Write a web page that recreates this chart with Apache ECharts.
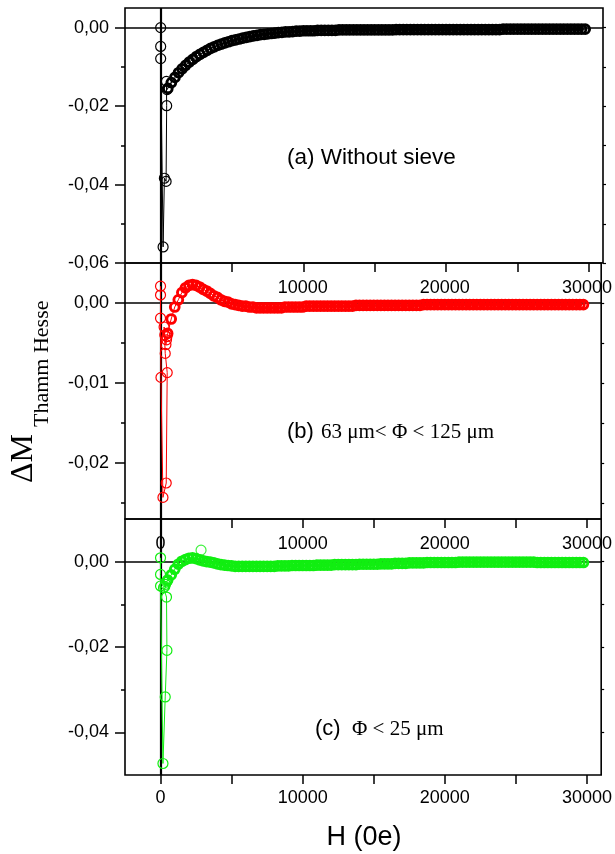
<!DOCTYPE html>
<html>
<head>
<meta charset="utf-8">
<script src="https://cdn.jsdelivr.net/npm/echarts@6/dist/echarts.min.js"></script>
<style>
  html, body { margin: 0; padding: 0; background: #fff; }
  #chart { width: 615px; height: 854px; }
</style>
</head>
<body>
<div id="chart"></div>
<script>
// Field grid (Oe) shared by the three high-field sweeps
const H_GRID = [
  500,750,1000,1250,1500,1750,2000,2250,2500,2750,
  3000,3250,3500,3750,4000,4250,4500,4750,5000,5250,
  5500,5750,6000,6250,6500,6750,7000,7250,7500,7750,
  8000,8250,8500,8750,9000,9250,9500,9750,10000,10250,
  10500,10750,11000,11250,11500,11750,12000,12250,12500,12750,
  13000,13250,13500,13750,14000,14250,14500,14750,15000,15250,
  15500,15750,16000,16250,16500,16750,17000,17250,17500,17750,
  18000,18250,18500,18750,19000,19250,19500,19750,20000,20250,
  20500,20750,21000,21250,21500,21750,22000,22250,22500,22750,
  23000,23250,23500,23750,24000,24250,24500,24750,25000,25250,
  25500,25750,26000,26250,26500,26750,27000,27250,27500,27750,
  28000,28250,28500,28750,29000,29250,29500,29750
];

// (a) Without sieve
const LOW_H_A = [0, 0, 0, 170, 260, 380, 420, 400, 450];
const LOW_M_A = [0.0000, -0.0048, -0.0079, -0.0559, -0.0384, -0.0392, -0.0199, -0.0137, -0.0158];
const M_A = [
  -0.0155,-0.0140,-0.0127,-0.0115,-0.0105,-0.0096,-0.0088,-0.0081,-0.0074,-0.0068,
  -0.0063,-0.0058,-0.0053,-0.0049,-0.0045,-0.0042,-0.0039,-0.0036,-0.0033,-0.0031,
  -0.0029,-0.0027,-0.0025,-0.0023,-0.0021,-0.0020,-0.0018,-0.0017,-0.0016,-0.0015,
  -0.0014,-0.0013,-0.0012,-0.0011,-0.0011,-0.0010,-0.0009,-0.0009,-0.0008,-0.0008,
  -0.0008,-0.0008,-0.0007,-0.0007,-0.0007,-0.0007,-0.0007,-0.0007,-0.0006,-0.0006,
  -0.0006,-0.0006,-0.0006,-0.0006,-0.0006,-0.0006,-0.0006,-0.0006,-0.0006,-0.0006,
  -0.0006,-0.0006,-0.0006,-0.0006,-0.0005,-0.0005,-0.0005,-0.0005,-0.0005,-0.0005,
  -0.0005,-0.0005,-0.0005,-0.0005,-0.0005,-0.0005,-0.0005,-0.0005,-0.0005,-0.0005,
  -0.0005,-0.0005,-0.0005,-0.0005,-0.0005,-0.0005,-0.0005,-0.0005,-0.0005,-0.0005,
  -0.0005,-0.0005,-0.0005,-0.0005,-0.0004,-0.0004,-0.0004,-0.0004,-0.0004,-0.0004,
  -0.0004,-0.0004,-0.0004,-0.0004,-0.0004,-0.0004,-0.0004,-0.0004,-0.0004,-0.0004,
  -0.0004,-0.0004,-0.0004,-0.0004,-0.0004,-0.0004,-0.0004,-0.0004
];

// (b) 63 μm < Φ < 125 μm
const LOW_H_B = [0, 0, 0, 30, 170, 400, 470, 330, 250, 300, 380, 420, 450];
const LOW_M_B = [0.0021, 0.0010, -0.0019, -0.0093, -0.0243, -0.0225, -0.0087, -0.0063, -0.0030, -0.0040, -0.0052, -0.0046, -0.0042];
const M_B = [
  -0.0038,-0.0020,-0.0005,0.0004,0.0013,0.0019,0.0022,0.0023,0.0022,0.0020,
  0.0017,0.0015,0.0012,0.0009,0.0007,0.0004,0.0002,0.0001,-0.0001,-0.0002,
  -0.0003,-0.0004,-0.0004,-0.0005,-0.0005,-0.0006,-0.0006,-0.0006,-0.0006,-0.0006,
  -0.0006,-0.0006,-0.0006,-0.0005,-0.0005,-0.0005,-0.0005,-0.0005,-0.0005,-0.0004,
  -0.0004,-0.0004,-0.0004,-0.0004,-0.0004,-0.0004,-0.0004,-0.0004,-0.0004,-0.0004,
  -0.0004,-0.0004,-0.0004,-0.0003,-0.0003,-0.0003,-0.0003,-0.0003,-0.0003,-0.0003,
  -0.0003,-0.0003,-0.0003,-0.0003,-0.0003,-0.0003,-0.0003,-0.0003,-0.0003,-0.0003,
  -0.0003,-0.0003,-0.0002,-0.0002,-0.0002,-0.0002,-0.0002,-0.0002,-0.0002,-0.0002,
  -0.0002,-0.0002,-0.0002,-0.0002,-0.0002,-0.0002,-0.0002,-0.0002,-0.0002,-0.0002,
  -0.0002,-0.0002,-0.0002,-0.0002,-0.0002,-0.0002,-0.0002,-0.0002,-0.0002,-0.0002,
  -0.0002,-0.0002,-0.0002,-0.0002,-0.0002,-0.0002,-0.0002,-0.0002,-0.0002,-0.0002,
  -0.0002,-0.0002,-0.0002,-0.0002,-0.0002,-0.0002,-0.0002,-0.0002
];

// (c) Φ < 25 μm
const LOW_H_C = [0, 0, 0, 170, 330, 450, 420, 210, 300, 350, 420, 470];
const LOW_M_C = [0.0009, -0.0030, -0.0057, -0.0473, -0.0317, -0.0208, -0.0083, -0.0061, -0.0058, -0.0053, -0.0048, -0.0045];
const M_C = [
  -0.0043,-0.0031,-0.0018,-0.0006,0.0001,0.0005,0.0008,0.0009,0.0007,0.0004,
  0.0002,0.0000,-0.0001,-0.0003,-0.0005,-0.0007,-0.0008,-0.0009,-0.0010,-0.0011,
  -0.0011,-0.0011,-0.0011,-0.0011,-0.0011,-0.0011,-0.0011,-0.0011,-0.0011,-0.0011,
  -0.0011,-0.0010,-0.0010,-0.0010,-0.0010,-0.0009,-0.0009,-0.0009,-0.0009,-0.0009,
  -0.0009,-0.0009,-0.0008,-0.0008,-0.0008,-0.0008,-0.0008,-0.0007,-0.0007,-0.0007,
  -0.0007,-0.0007,-0.0007,-0.0007,-0.0006,-0.0006,-0.0006,-0.0006,-0.0006,-0.0006,
  -0.0005,-0.0005,-0.0005,-0.0005,-0.0004,-0.0004,-0.0004,-0.0004,-0.0003,-0.0003,
  -0.0003,-0.0003,-0.0003,-0.0002,-0.0002,-0.0002,-0.0002,-0.0002,-0.0002,-0.0002,
  -0.0002,-0.0002,-0.0001,-0.0001,-0.0001,-0.0001,-0.0001,-0.0001,-0.0001,-0.0001,
  -0.0001,-0.0001,-0.0001,-0.0001,-0.0001,-0.0001,-0.0001,-0.0001,-0.0001,-0.0001,
  -0.0001,-0.0001,-0.0001,-0.0001,-0.0002,-0.0002,-0.0002,-0.0002,-0.0002,-0.0002,
  -0.0002,-0.0002,-0.0002,-0.0002,-0.0002,-0.0002,-0.0002,-0.0002
];
const OUT_H_C = [2850];
const OUT_M_C = [0.0027];

// Axis ranges and tick values
const X_MIN = -2500, X_MAX = 31000;
const X_TICKS = [0, 5000, 10000, 15000, 20000, 25000, 30000];
const X_LABELS = [0, 10000, 20000, 30000];
const X_TOP_LABELS = [[], [10000, 20000, 30000], [0, 10000, 20000, 30000]];

const Y_RANGE = [[-0.06, 0.005], [-0.027, 0.005], [-0.05, 0.01]];
const Y_MAJOR = [[-0.06, -0.04, -0.02, 0], [-0.02, -0.01, 0], [-0.04, -0.02, 0]];
const Y_MINOR = [[-0.05, -0.03, -0.01], [-0.025, -0.015, -0.005], [-0.03, -0.01]];

const COLORS = ['#000000', '#ff0000', '#11ee11'];

const SANS = "'Liberation Sans', Arial, sans-serif";
const SERIF = "'Liberation Serif', 'Times New Roman', serif";

// low-field points keep a thin outline; the dense sweep uses a heavier one
function lowItems(hs, ms) { return hs.map((h, i) => ({ value: [h, ms[i]], symbolSize: 10, itemStyle: { borderWidth: 1.2 } })); }
function pairs(hs, ms) { return hs.map((h, i) => [h, ms[i]]); }
const DATA = [
  lowItems(LOW_H_A, LOW_M_A).concat(pairs(H_GRID, M_A)),
  lowItems(LOW_H_B, LOW_M_B).concat(pairs(H_GRID, M_B)),
  lowItems(LOW_H_C, LOW_M_C).concat(pairs(H_GRID, M_C))
];

const GRID_LEFT = 125, GRID_WIDTH = 478;
const GRID_TOPS = [8, 263, 519];
const GRID_HEIGHTS = [255, 256, 256];

const fmtComma = v => v.toFixed(2).replace('.', ',');

const grids = [], xAxes = [], yAxes = [], series = [];
for (let i = 0; i < 3; i++) {
  const [yMin, yMax] = Y_RANGE[i];
  const zeroDepth = GRID_HEIGHTS[i] * yMax / (yMax - yMin);
  grids.push({
    left: GRID_LEFT, width: GRID_WIDTH, top: GRID_TOPS[i], height: GRID_HEIGHTS[i],
    show: true, borderColor: '#000', borderWidth: 1.6, backgroundColor: 'transparent'
  });
  // bottom frame axis: ticks (and labels on the lowest panel)
  xAxes.push({
    gridIndex: i, type: 'value', min: X_MIN, max: X_MAX, position: 'bottom',
    axisLine: { show: false, onZero: false },
    axisTick: { show: true, inside: false, length: 9, customValues: X_TICKS, lineStyle: { color: '#000', width: 1.5 } },
    axisLabel: { show: i === 2, customValues: X_LABELS, formatter: v => String(v), color: '#000', fontSize: 18, fontFamily: SANS, margin: 14 },
    splitLine: { show: false }
  });
  // field labels sitting just above each panel's zero line
  xAxes.push({
    gridIndex: i, type: 'value', min: X_MIN, max: X_MAX, position: 'top',
    offset: -zeroDepth,
    axisLine: { show: false, onZero: false },
    axisTick: { show: false },
    axisLabel: {
      show: X_TOP_LABELS[i].length > 0, customValues: X_TOP_LABELS[i],
      formatter: v => String(v), color: '#000', fontSize: 18, fontFamily: SANS, margin: i === 1 ? 6 : 9
    },
    splitLine: { show: false }
  });
  const yBase = {
    gridIndex: i, type: 'value', min: yMin, max: yMax,
    splitLine: { show: false }
  };
  yAxes.push(Object.assign({}, yBase, {
    position: 'left',
    axisLine: { show: false, onZero: false },
    axisTick: { show: true, length: 10, customValues: Y_MAJOR[i], lineStyle: { color: '#000', width: 1.5 } },
    axisLabel: { customValues: Y_MAJOR[i], formatter: fmtComma, color: '#000', fontSize: 18, fontFamily: SANS, margin: 16 }
  }));
  yAxes.push(Object.assign({}, yBase, {
    position: 'left',
    axisLine: { show: false, onZero: false },
    axisTick: { show: true, length: 4, customValues: Y_MINOR[i], lineStyle: { color: '#000', width: 1.5 } },
    axisLabel: { show: false }
  }));
  yAxes.push(Object.assign({}, yBase, {
    position: 'right',
    axisLine: { show: false, onZero: false },
    axisTick: { show: true, length: 3, customValues: Y_MAJOR[i].concat(Y_MINOR[i]), lineStyle: { color: '#000', width: 1.2 } },
    axisLabel: { show: false }
  }));

  series.push({
    type: 'line', xAxisIndex: 2 * i, yAxisIndex: 3 * i, data: DATA[i],
    symbol: 'circle', symbolSize: 8.8, showAllSymbol: true,
    itemStyle: { color: 'rgba(255,255,255,0)', borderColor: COLORS[i], borderWidth: 2.9 },
    lineStyle: { color: COLORS[i], width: 1 },
    emphasis: { disabled: true }, silent: true,
    markLine: {
      silent: true, symbol: 'none', label: { show: false }, z: 1,
      lineStyle: { color: '#000', type: 'solid' },
      data: [
        { xAxis: 0, lineStyle: { width: 2.2 } },
        { yAxis: 0, lineStyle: { width: 1.6 } }
      ]
    }
  });
}
series.push({
  type: 'scatter', xAxisIndex: 4, yAxisIndex: 6, data: pairs(OUT_H_C, OUT_M_C),
  symbol: 'circle', symbolSize: 10,
  itemStyle: { color: 'rgba(255,255,255,0)', borderColor: COLORS[2], borderWidth: 1.2 },
  emphasis: { disabled: true }, silent: true
});

const chart = echarts.init(document.getElementById('chart'), null, { renderer: 'canvas' });
chart.setOption({
  animation: false,
  backgroundColor: '#fff',
  grid: grids, xAxis: xAxes, yAxis: yAxes, series: series,
  graphic: [
    { type: 'text', x: 287, y: 158, style: { text: '(a) Without sieve', font: '22.5px ' + SANS, fill: '#000', verticalAlign: 'middle', align: 'left' } },
    { type: 'text', x: 287, y: 432, style: { text: '(b)', font: '22px ' + SANS, fill: '#000', verticalAlign: 'middle', align: 'left' } },
    { type: 'text', x: 321, y: 432, style: { text: '63 μm< Φ < 125 μm', font: '21px ' + SERIF, fill: '#000', verticalAlign: 'middle', align: 'left' } },
    { type: 'text', x: 315, y: 729, style: { text: '(c)', font: '22px ' + SANS, fill: '#000', verticalAlign: 'middle', align: 'left' } },
    { type: 'text', x: 352, y: 729, style: { text: 'Φ < 25 μm', font: '21px ' + SERIF, fill: '#000', verticalAlign: 'middle', align: 'left' } },
    { type: 'text', x: 364, y: 838, style: { text: 'H (0e)', font: '27px ' + SANS, fill: '#000', verticalAlign: 'middle', align: 'center' } },
    { type: 'text', x: 23.5, y: 483, rotation: Math.PI / 2, style: { text: 'ΔM', font: '32px ' + SERIF, fill: '#000', verticalAlign: 'middle', align: 'left' } },
    { type: 'text', x: 42.6, y: 427, rotation: Math.PI / 2, style: { text: 'Thamm Hesse', font: '22px ' + SERIF, fill: '#000', verticalAlign: 'middle', align: 'left' } }
  ]
});
</script>
</body>
</html>
